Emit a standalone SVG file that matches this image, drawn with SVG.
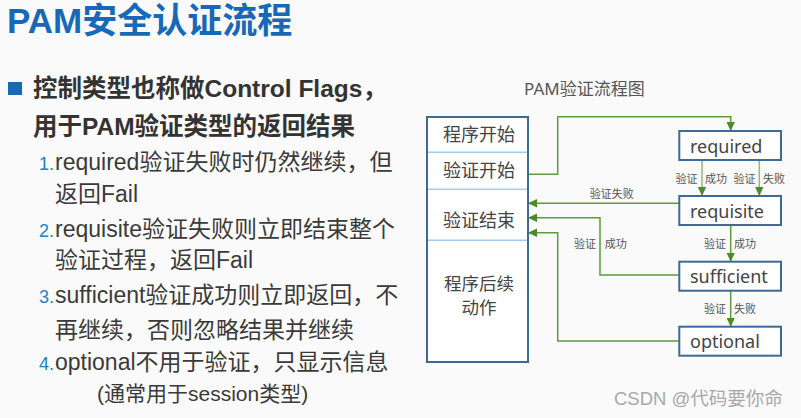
<svg xmlns="http://www.w3.org/2000/svg" width="801" height="418" viewBox="0 0 801 418">
<defs>
<marker id="arr" markerUnits="userSpaceOnUse" markerWidth="10" markerHeight="10" refX="9" refY="5" orient="auto">
<path d="M0,0.8 L9,5 L0,9.2 Z" fill="#4e8a2c"/>
</marker>
</defs>
<style>
.bg{fill:#fafafa}
.title{font-family:"Liberation Sans","Noto Sans CJK SC",sans-serif;font-size:35px;font-weight:bold;fill:#1769b8}
.head{font-family:"Liberation Sans","Noto Sans CJK SC",sans-serif;font-size:24.5px;font-weight:bold;fill:#333}
.body{font-family:"Liberation Sans","Noto Sans CJK SC",sans-serif;font-size:23px;fill:#3a3a3a}
.num{font-family:"Liberation Sans","Noto Sans CJK SC",sans-serif;font-size:18px;fill:#1f7fc8}
.cap{font-family:"Noto Sans","Noto Sans CJK SC",sans-serif;font-size:17px;fill:#555}
.panel{fill:#fff;stroke:#3f6a93;stroke-width:2}
.div{stroke:#a9cbe8;stroke-width:1.5}
.ptxt{font-family:"Noto Sans CJK SC",sans-serif;font-size:18px;fill:#444;text-anchor:middle}
.box{fill:#fff;stroke:#3f6a93;stroke-width:2}
.btxt{font-family:"Noto Sans","Noto Sans CJK SC",sans-serif;font-size:18px;fill:#444}
.ln{fill:none;stroke:#5f9a3c;stroke-width:1.5;marker-end:url(#arr)}
.ln2{fill:none;stroke:#8fbf6c;stroke-width:1.5;marker-end:url(#arr)}
.lbl{font-family:"Noto Sans CJK SC",sans-serif;font-size:11px;fill:#555;text-anchor:middle}
.wm{font-family:"Liberation Sans","Noto Sans CJK SC",sans-serif;font-size:18.5px;fill:#a8a8a8}
</style>
<rect class="bg" x="0" y="0" width="801" height="418"/>
<text class="title" x="7" y="33">PAM安全认证流程</text>
<rect x="8" y="82" width="14" height="13" fill="#1769b8"/>
<text class="head" x="33" y="97">控制类型也称做Control Flags，</text>
<text class="head" x="33" y="135">用于PAM验证类型的返回结果</text>
<text class="num" x="39" y="170">1.</text>
<text class="body" x="55" y="170">required验证失败时仍然继续，但</text>
<text class="body" x="55" y="202">返回Fail</text>
<text class="num" x="39" y="237">2.</text>
<text class="body" x="55" y="237">requisite验证失败则立即结束整个</text>
<text class="body" x="55" y="268">验证过程，返回Fail</text>
<text class="num" x="39" y="303">3.</text>
<text class="body" x="55" y="303">sufficient验证成功则立即返回，不</text>
<text class="body" x="55" y="338">再继续，否则忽略结果并继续</text>
<text class="num" x="39" y="370">4.</text>
<text class="body" x="55" y="370">optional不用于验证，只显示信息</text>
<text class="body" x="97" y="401" style="font-size:21px">(通常用于session类型)</text>

<text class="cap" x="524" y="95">PAM验证流程图</text>

<g id="connectors">
<polyline class="ln" points="528,174.3 557.7,174.3 557.7,116.7 730.7,116.7 730.7,131"/>
<line class="ln2" x1="702" y1="160" x2="702" y2="196"/>
<line class="ln2" x1="759.3" y1="160" x2="759.3" y2="196"/>
<line class="ln" x1="679.3" y1="203.3" x2="528" y2="203.3"/>
<polyline class="ln" points="679.3,275 600,275 600,217.7 528,217.7"/>
<polyline class="ln" points="679.3,341 557.7,341 557.7,232.7 528,232.7"/>
<line class="ln" x1="730.7" y1="225" x2="730.7" y2="261.7"/>
<line class="ln" x1="730.7" y1="290.7" x2="730.7" y2="326.7"/>
<text class="lbl" x="686.5" y="183">验证</text>
<text class="lbl" x="716" y="183">成功</text>
<text class="lbl" x="744.5" y="183">验证</text>
<text class="lbl" x="774" y="183">失败</text>
<text class="lbl" x="611.7" y="197.5">验证失败</text>
<text class="lbl" x="585" y="248">验证</text>
<text class="lbl" x="615.7" y="248">成功</text>
<text class="lbl" x="715" y="248">验证</text>
<text class="lbl" x="745" y="248">成功</text>
<text class="lbl" x="715" y="313">验证</text>
<text class="lbl" x="745" y="313">失败</text>
</g>

<g id="panel">
<rect class="panel" x="427" y="117" width="101" height="245"/>
<line class="div" x1="428" y1="152.3" x2="527" y2="152.3"/>
<line class="div" x1="428" y1="189.3" x2="527" y2="189.3"/>
<line class="div" x1="428" y1="240.3" x2="527" y2="240.3"/>
<text class="ptxt" x="479" y="140.5">程序开始</text>
<text class="ptxt" x="479" y="176.5">验证开始</text>
<text class="ptxt" x="479" y="227">验证结束</text>
<text class="ptxt" x="479" y="290" style="font-size:17.5px">程序后续</text>
<text class="ptxt" x="479" y="314" style="font-size:17.5px">动作</text>
</g>

<g id="required">
<rect class="box" x="679.3" y="131" width="101.7" height="29"/>
<text class="btxt" x="690" y="152.5">required</text>
</g>
<g id="requisite">
<rect class="box" x="679.3" y="196" width="101.7" height="29"/>
<text class="btxt" x="690" y="217.5">requisite</text>
</g>
<g id="sufficient">
<rect class="box" x="679.3" y="261.7" width="101.7" height="29"/>
<text class="btxt" x="690" y="283">sufficient</text>
</g>
<g id="optional">
<rect class="box" x="679.3" y="326.7" width="101.7" height="29"/>
<text class="btxt" x="690" y="348">optional</text>
</g>

<text class="wm" x="614" y="405">CSDN @代码要你命</text>
</svg>
